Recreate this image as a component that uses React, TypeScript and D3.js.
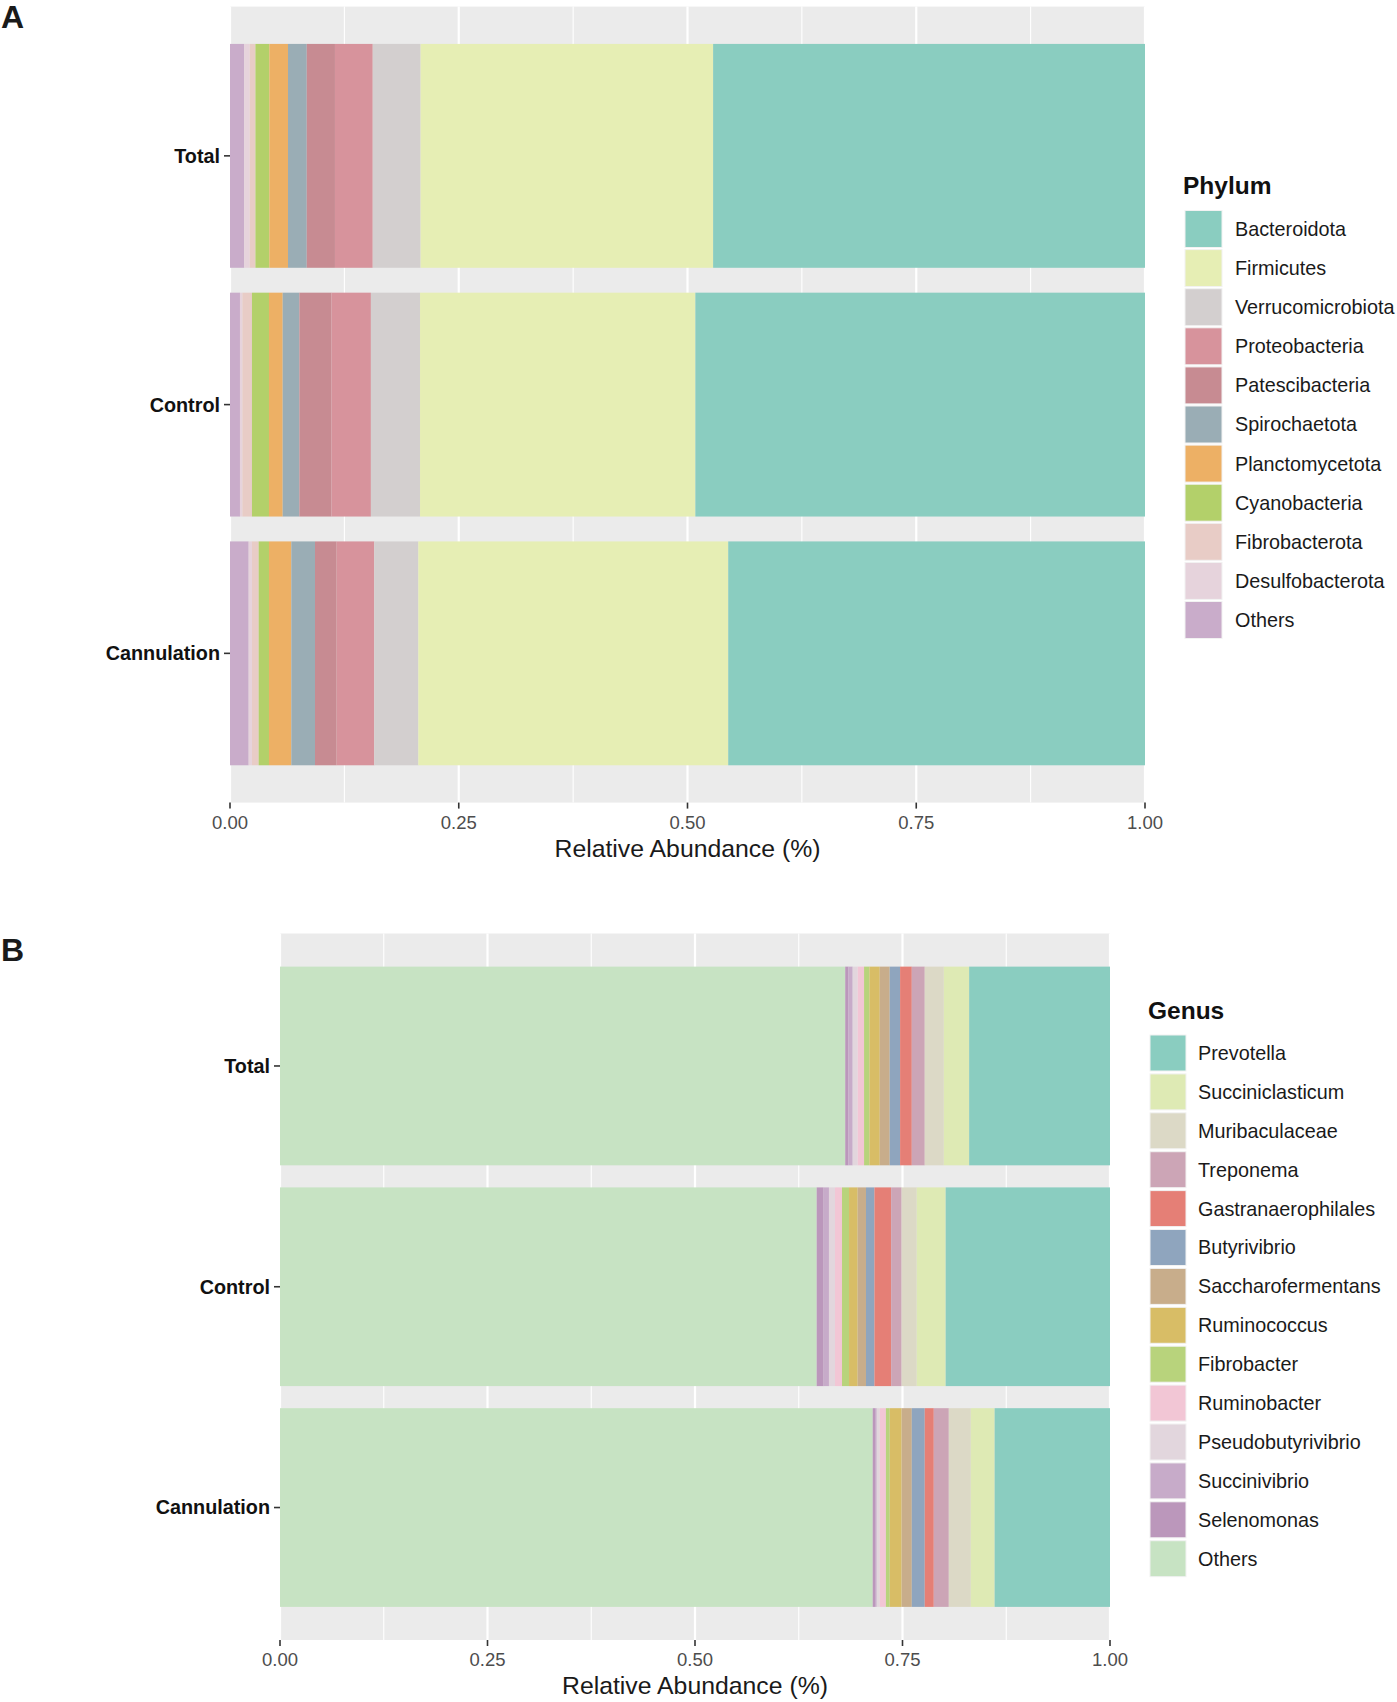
import React from "react";
import * as d3 from "d3";

// ---------- Data ----------
const groups = ["Total", "Control", "Cannulation"];
const xTicks = [0, 0.25, 0.5, 0.75, 1];
const xMinor = [0.125, 0.375, 0.625, 0.875];

// Phylum, in stacking order (left to right)
const phylumKeys = [
  "Others", "Desulfobacterota", "Fibrobacterota", "Cyanobacteria", "Planctomycetota",
  "Spirochaetota", "Patescibacteria", "Proteobacteria", "Verrucomicrobiota", "Firmicutes", "Bacteroidota",
];
const phylumColors = [
  "#C9ACCA", "#E6D3DC", "#E8CCC6", "#B3D06A", "#EDB065",
  "#9AADB5", "#C78B92", "#D7939C", "#D3CFCF", "#E6EEB4", "#8ACDC0",
];
const phylumTotal = [0.0156, 0.0059, 0.0063, 0.0152, 0.0204, 0.0205, 0.0308, 0.0413, 0.0523, 0.3197, 0.472];
const phylumControl = [0.0109, 0.0026, 0.0105, 0.0186, 0.015, 0.0182, 0.0352, 0.043, 0.0537, 0.3009, 0.4914];
const phylumCannulation = [0.0204, 0.0036, 0.0073, 0.0113, 0.0244, 0.0259, 0.0237, 0.0411, 0.0481, 0.3387, 0.4555];

// Genus, in stacking order (left to right)
const genusKeys = [
  "Others", "Selenomonas", "Succinivibrio", "Pseudobutyrivibrio", "Ruminobacter", "Fibrobacter",
  "Ruminococcus", "Saccharofermentans", "Butyrivibrio", "Gastranaerophilales", "Treponema",
  "Muribaculaceae", "Succiniclasticum", "Prevotella",
];
const genusColors = [
  "#C7E3C3", "#BB97BB", "#C7ABC9", "#E2D6DD", "#F2C6D5", "#B8D37C",
  "#D8BD66", "#C8AD8B", "#8FA5BE", "#E57F76", "#CCA5B6",
  "#DCD9C6", "#DEEAB4", "#8ACDC0",
];
const genusTotal = [0.681, 0.004, 0.005, 0.006, 0.0077, 0.0065, 0.0124, 0.012, 0.0125, 0.0141, 0.0156, 0.023, 0.0305, 0.1697];
const genusControl = [0.6466, 0.0084, 0.0064, 0.0073, 0.0084, 0.0085, 0.0104, 0.01, 0.0102, 0.0201, 0.0127, 0.0182, 0.0348, 0.198];
const genusCannulation = [0.7141, 0.0028, 0.0021, 0.0036, 0.0074, 0.0046, 0.0144, 0.0122, 0.0156, 0.0109, 0.0181, 0.0265, 0.0287, 0.139];

const FONT = "'Liberation Sans', Arial, Helvetica, sans-serif";

type PanelProps = {
  keys: string[];
  colors: string[];
  series: number[][];
  x0: number; x1: number; y0: number; y1: number;
  legendTitle: string;
  legendX: number; legendTitleY: number; legendFirstY: number; legendStep: number;
  keyW: number; textX: number;
};

function Panel(p: PanelProps) {
  const x = d3.scaleLinear().domain([0, 1]).range([p.x0, p.x1]);
  const y = d3.scaleBand<string>().domain(groups).range([p.y0, p.y1]).paddingInner(0.1).paddingOuter(0.15);
  const rows = groups.map((g, gi) => {
    const o: any = { group: g };
    p.keys.forEach((k, ki) => { o[k] = p.series[gi][ki]; });
    return o;
  });
  const stacked = d3.stack<any>().keys(p.keys)(rows);
  const color = d3.scaleOrdinal<string, string>().domain(p.keys).range(p.colors);
  const legendKeys = [...p.keys].reverse();
  const bw = y.bandwidth();
  return (
    <g>
      <rect x={p.x0} y={p.y0} width={p.x1 - p.x0} height={p.y1 - p.y0} fill="#EBEBEB" />
      {xMinor.map((t) => (
        <line key={"mn" + t} x1={x(t)} x2={x(t)} y1={p.y0} y2={p.y1} stroke="#fff" strokeWidth={1.1} />
      ))}
      {xTicks.map((t) => (
        <line key={"mj" + t} x1={x(t)} x2={x(t)} y1={p.y0} y2={p.y1} stroke="#fff" strokeWidth={2.2} />
      ))}
      {stacked.map((s) => (
        <g key={s.key} fill={color(s.key)}>
          {s.map((d: any) => (
            <rect key={d.data.group} x={x(d[0])} width={Math.max(0, x(d[1]) - x(d[0]))}
              y={y(d.data.group)} height={bw} />
          ))}
        </g>
      ))}
      {/* y axis */}
      {groups.map((g) => {
        const cy = (y(g) as number) + bw / 2;
        return (
          <g key={"y" + g}>
            <line x1={p.x0 - 6} x2={p.x0} y1={cy} y2={cy} stroke="#333" strokeWidth={1.6} />
            <text x={p.x0 - 10} y={cy} dy="0.35em" textAnchor="end" fontFamily={FONT}
              fontWeight="bold" fontSize={19.8} fill="#111">{g}</text>
          </g>
        );
      })}
      {/* x axis */}
      {xTicks.map((t) => (
        <g key={"x" + t}>
          <line x1={x(t)} x2={x(t)} y1={p.y1} y2={p.y1 + 6} stroke="#333" strokeWidth={1.6} />
          <text x={x(t)} y={p.y1 + 26} textAnchor="middle" fontFamily={FONT} fontSize={18.5}
            fill="#4D4D4D">{d3.format(".2f")(t)}</text>
        </g>
      ))}
      <text x={(p.x0 + p.x1) / 2} y={p.y1 + 54} textAnchor="middle" fontFamily={FONT}
        fontSize={24.8} fill="#1a1a1a">Relative Abundance (%)</text>
      {/* legend */}
      <text x={p.legendX - 2} y={p.legendTitleY} dy="0.35em" fontFamily={FONT} fontWeight="bold"
        fontSize={24.5} fill="#111">{p.legendTitle}</text>
      {legendKeys.map((k, i) => {
        const cy = p.legendFirstY + i * p.legendStep;
        return (
          <g key={"lg" + k}>
            <rect x={p.legendX} y={cy - p.keyW / 2} width={p.keyW} height={p.keyW} fill={color(k)}
              stroke="#F2F2F2" strokeWidth={1} />
            <text x={p.textX} y={cy} dy="0.35em" fontFamily={FONT} fontSize={19.8} fill="#1a1a1a">{k}</text>
          </g>
        );
      })}
    </g>
  );
}

export default function App() {
  return (
    <svg width={1397} height={1702} style={{ position: "absolute", left: 0, top: 0, display: "block", background: "#fff" }}>
      <text x={1} y={28} fontFamily={FONT} fontWeight="bold" fontSize={32} fill="#1a1a1a">A</text>
      <text x={1} y={961} fontFamily={FONT} fontWeight="bold" fontSize={32} fill="#1a1a1a">B</text>
      <Panel keys={phylumKeys} colors={phylumColors}
        series={[phylumTotal, phylumControl, phylumCannulation]}
        x0={230} x1={1145} y0={6.6} y1={802.6}
        legendTitle="Phylum" legendX={1185} legendTitleY={185} legendFirstY={229} legendStep={39.1}
        keyW={37} textX={1235} />
      <Panel keys={genusKeys} colors={genusColors}
        series={[genusTotal, genusControl, genusCannulation]}
        x0={280} x1={1110} y0={933.5} y1={1640}
        legendTitle="Genus" legendX={1150} legendTitleY={1010} legendFirstY={1053} legendStep={38.9}
        keyW={36} textX={1198} />
    </svg>
  );
}
